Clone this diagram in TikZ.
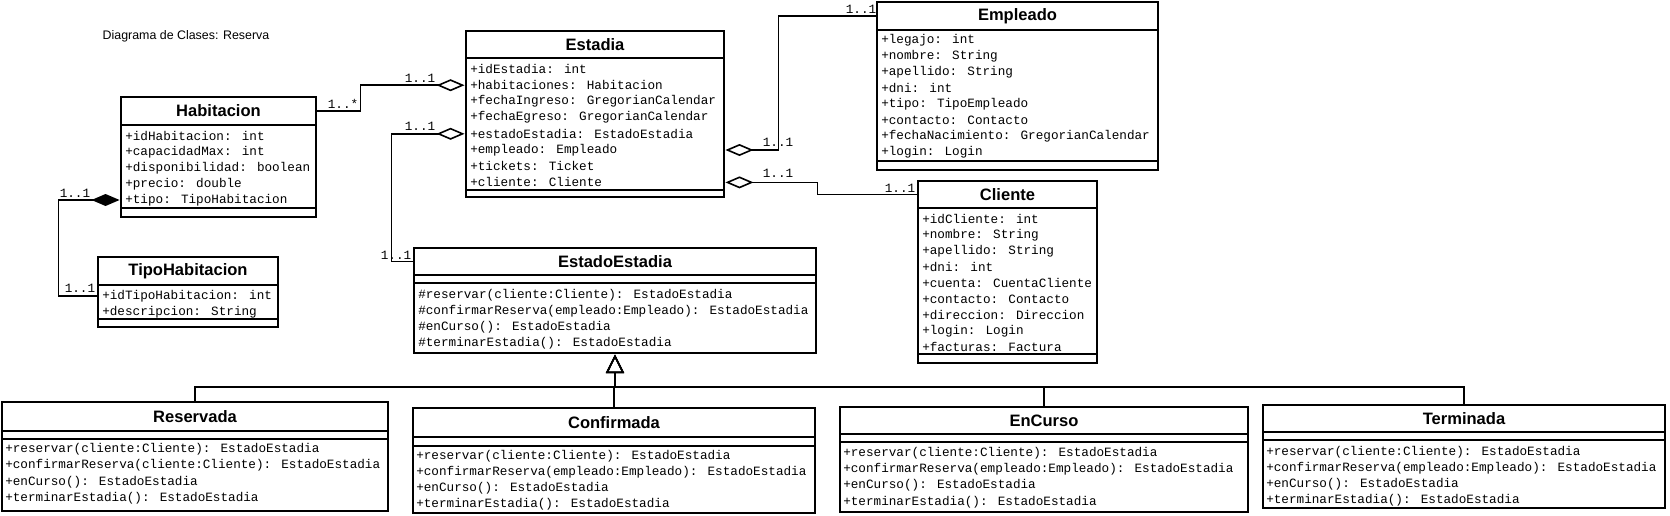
\documentclass[tikz,border=0pt]{standalone}
\usepackage{fontspec}
\setmainfont{Liberation Sans}
\newfontfamily\umlmono{Liberation Mono}
\usetikzlibrary{arrows.meta,fit}

\tikzset{
	classbox/.style={draw=black, line width=2.2pt, inner sep=0pt},
	umlsep/.style={line width=1.8pt},
	umlhead/.style={inner sep=0pt, font=\bfseries\fontsize{12.4}{14}\selectfont},
	umlrow/.style={anchor=west, inner sep=0pt, font=\umlmono\fontsize{9.5}{11}\selectfont},
	umlmult/.style={inner sep=0pt, font=\umlmono\fontsize{9.5}{11}\selectfont},
	aggr/.style={line width=1.2pt, -{Diamond[open, length=21pt, width=9pt]}},
	comp/.style={line width=1.2pt, -{Diamond[length=21pt, width=9pt]}},
	gen/.style={line width=1.2pt, -{Triangle[open, length=14pt, width=13.5pt]}}
}

\begin{document}
\begin{tikzpicture}[x=0.75pt,y=-0.75pt]
						\useasboundingbox (0,0) rectangle (1670,515);
						\node[font=\fontsize{9.3}{11}\selectfont] (titulo) at (186,36) {Diagrama de Clases: Reserva};
						% Habitacion
						\node[classbox, fit={(121,97) (316,217)}] (habitacion) {};
						\node[umlhead] (habitacion-t) at (218.5,111) {Habitacion};
						\draw[umlsep] (121,125) -- (316,125);
						\draw[umlsep] (121,208) -- (316,208);
						\foreach \t [count=\i] in {+idHabitacion: int, +capacidadMax: int, +disponibilidad: boolean, +precio: double, +tipo: TipoHabitacion}
						\node[umlrow] (habitacion-\i) at (125,{136+16*(\i-1)}) {\t};
						% TipoHabitacion
						\node[classbox, fit={(98,257) (278,327)}] (tipohab) {};
						\node[umlhead] (tipohab-t) at (188,271) {TipoHabitacion};
						\draw[umlsep] (98,285) -- (278,285);
						\draw[umlsep] (98,319) -- (278,319);
						\foreach \t [count=\i] in {+idTipoHabitacion: int, +descripcion: String}
						\node[umlrow] (tipohab-\i) at (102,{296+16*(\i-1)}) {\t};
						% Estadia
						\node[classbox, fit={(466,31) (724,197)}] (estadia) {};
						\node[umlhead] (estadia-t) at (595,44.5) {Estadia};
						\draw[umlsep] (466,58) -- (724,58);
						\draw[umlsep] (466,190) -- (724,190);
						\foreach \t [count=\i] in {+idEstadia: int, +habitaciones: Habitacion, +fechaIngreso: GregorianCalendar, +fechaEgreso: GregorianCalendar, +estadoEstadia: EstadoEstadia, +empleado: Empleado, +tickets: Ticket, +cliente: Cliente}
						\node[umlrow] (estadia-\i) at (470,{69+16.2*(\i-1)}) {\t};
						% Empleado
						\node[classbox, fit={(877,2) (1158,170)}] (empleado) {};
						\node[umlhead] (empleado-t) at (1017.5,16) {Empleado};
						\draw[umlsep] (877,30) -- (1158,30);
						\draw[umlsep] (877,161) -- (1158,161);
						\foreach \t [count=\i] in {+legajo: int, +nombre: String, +apellido: String, +dni: int, +tipo: TipoEmpleado, +contacto: Contacto, +fechaNacimiento: GregorianCalendar, +login: Login}
						\node[umlrow] (empleado-\i) at (881,{40+16*(\i-1)}) {\t};
						% Cliente
						\node[classbox, fit={(918,181) (1097,363)}] (cliente) {};
						\node[umlhead] (cliente-t) at (1007.5,194.5) {Cliente};
						\draw[umlsep] (918,208) -- (1097,208);
						\draw[umlsep] (918,354) -- (1097,354);
						\foreach \t [count=\i] in {+idCliente: int, +nombre: String, +apellido: String, +dni: int, +cuenta: CuentaCliente, +contacto: Contacto, +direccion: Direccion, +login: Login, +facturas: Factura}
						\node[umlrow] (cliente-\i) at (922,{219+16*(\i-1)}) {\t};
						% EstadoEstadia
						\node[classbox, fit={(414,248) (816,353)}] (estadoest) {};
						\node[umlhead] (estadoest-t) at (615,261.5) {EstadoEstadia};
						\draw[umlsep] (414,275) -- (816,275);
						\draw[umlsep] (414,283) -- (816,283);
						\foreach \t [count=\i] in {\#reservar(cliente:Cliente): EstadoEstadia, \#confirmarReserva(empleado:Empleado): EstadoEstadia, \#enCurso(): EstadoEstadia, \#terminarEstadia(): EstadoEstadia}
						\node[umlrow] (estadoest-\i) at (418,{295+16*(\i-1)}) {\t};
						% estados
						\node[classbox, fit={(2,402) (388,511)}] (reservada) {};
						\node[umlhead] (reservada-t) at (195,416.5) {Reservada};
						\draw[umlsep] (2,431) -- (388,431);
						\draw[umlsep] (2,439) -- (388,439);
						\foreach \t [count=\i] in {+reservar(cliente:Cliente): EstadoEstadia, +confirmarReserva(cliente:Cliente): EstadoEstadia, +enCurso(): EstadoEstadia, +terminarEstadia(): EstadoEstadia}
						\node[umlrow] (reservada-\i) at (5,{449+16.5*(\i-1)}) {\t};
						\node[classbox, fit={(413,408) (815,513)}] (confirmada) {};
						\node[umlhead] (confirmada-t) at (614,422.5) {Confirmada};
						\draw[umlsep] (413,437) -- (815,437);
						\draw[umlsep] (413,446) -- (815,446);
						\foreach \t [count=\i] in {+reservar(cliente:Cliente): EstadoEstadia, +confirmarReserva(empleado:Empleado): EstadoEstadia, +enCurso(): EstadoEstadia, +terminarEstadia(): EstadoEstadia}
						\node[umlrow] (confirmada-\i) at (416,{456+16*(\i-1)}) {\t};
						\node[classbox, fit={(840,407) (1248,512)}] (encurso) {};
						\node[umlhead] (encurso-t) at (1044,420.5) {EnCurso};
						\draw[umlsep] (840,434) -- (1248,434);
						\draw[umlsep] (840,442) -- (1248,442);
						\foreach \t [count=\i] in {+reservar(cliente:Cliente): EstadoEstadia, +confirmarReserva(empleado:Empleado): EstadoEstadia, +enCurso(): EstadoEstadia, +terminarEstadia(): EstadoEstadia}
						\node[umlrow] (encurso-\i) at (843,{453+16.3*(\i-1)}) {\t};
						\node[classbox, fit={(1263,405) (1665,508)}] (terminada) {};
						\node[umlhead] (terminada-t) at (1464,418.5) {Terminada};
						\draw[umlsep] (1263,432) -- (1665,432);
						\draw[umlsep] (1263,440) -- (1665,440);
						\foreach \t [count=\i] in {+reservar(cliente:Cliente): EstadoEstadia, +confirmarReserva(empleado:Empleado): EstadoEstadia, +enCurso(): EstadoEstadia, +terminarEstadia(): EstadoEstadia}
						\node[umlrow] (terminada-\i) at (1266,{452+16*(\i-1)}) {\t};
						% relaciones
						\draw[aggr] (habitacion.east |- habitacion-t) -- ++(43,0) |- (estadia.west |- estadia-2);
						\draw[aggr] (estadoest.west |- estadoest-t) -- ++(-21,0) |- (estadia.west |- estadia-5);
						\draw[aggr] (empleado.west |- empleado-t) -- ++(-97,0) |- (estadia.east |- estadia-6);
						\draw[aggr] (cliente.west |- cliente-t) -- ++(-99,0) |- (estadia.east |- estadia-8);
						\draw[comp] (tipohab.west |- tipohab-1) -- ++(-38,0) |- (habitacion.west |- habitacion-5);
						\coordinate (bus) at (615,387);
						\foreach \c in {reservada, confirmada, encurso, terminada}
						\draw[gen] (\c.north) |- (bus) -- (estadoest.south);
						% multiplicidades
						\node[umlmult] (m-hab) at (343,104) {1..*};
						\node[umlmult] (m-est1) at (420,78) {1..1};
						\node[umlmult] (m-est2) at (420,126) {1..1};
						\node[umlmult] (m-estado) at (396,255) {1..1};
						\node[umlmult] (m-habtipo) at (75,193) {1..1};
						\node[umlmult] (m-tipo) at (80,288) {1..1};
						\node[umlmult] (m-est3) at (778,142) {1..1};
						\node[umlmult] (m-emp) at (861,9) {1..1};
						\node[umlmult] (m-est4) at (778,173) {1..1};
						\node[umlmult] (m-cli) at (900,188) {1..1};
\end{tikzpicture}
\end{document}
